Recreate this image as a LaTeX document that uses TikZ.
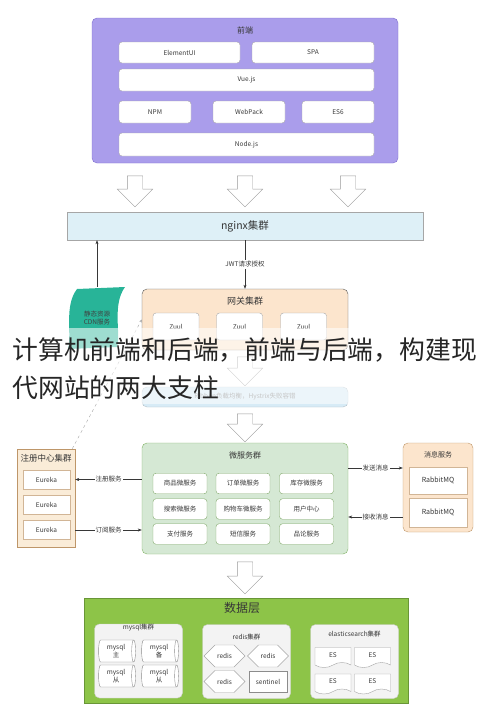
\documentclass[tikz,border=0pt]{standalone}
\usepackage{fontspec}
\setmainfont{Noto Sans CJK SC}
\definecolor{feviolet}{RGB}{170, 157, 235}
\definecolor{feborder}{RGB}{125, 108, 205}
\definecolor{nginxblue}{RGB}{222, 240, 247}
\definecolor{gwpeach}{RGB}{252, 229, 205}
\definecolor{cdnteal}{RGB}{40, 180, 152}
\definecolor{lbblue}{RGB}{215, 235, 246}
\definecolor{msgreen}{RGB}{213, 232, 212}
\definecolor{msborder}{RGB}{130, 179, 102}
\definecolor{regbeige}{RGB}{250, 236, 216}
\definecolor{peachborder}{RGB}{190, 150, 105}
\definecolor{dbgreen}{RGB}{141, 196, 72}
\definecolor{dbborder}{RGB}{105, 150, 55}
\definecolor{panelgray}{RGB}{243, 243, 243}
\definecolor{txtgray}{RGB}{55, 55, 55}
\usetikzlibrary{shapes.geometric, shapes.symbols, shapes.arrows, arrows.meta, positioning, calc}

\begin{document}
\begin{tikzpicture}[x=1pt, y=-1pt,
  box/.style={draw=gray!70, rounded corners=3pt, fill=white, inner sep=1pt, font=\fontsize{6.5}{8}\selectfont, text=txtgray, align=center},
  grp/.style={draw, rounded corners=5pt},
  title/.style={font=\fontsize{8}{10}\selectfont, text=txtgray},
  hollow/.style={single arrow, draw=gray!80, fill=white, rotate=-90, minimum height=#1, minimum width=35pt, single arrow head extend=10pt, inner sep=7.5pt},
  hollow/.default=30pt,
  flow/.style={-{Stealth[length=4pt, width=3pt]}, txtgray},
  lbl/.style={fill=white, inner sep=1pt, font=\fontsize{6.5}{8}\selectfont, text=txtgray},
  panel/.style={draw=gray!40, fill=panelgray, rounded corners=5pt, minimum width=88pt, minimum height=74pt},
  dbcyl/.style={box, cylinder, rounded corners=0pt, draw=gray!90, shape aspect=0.3, minimum width=22pt, minimum height=37pt, inner sep=0pt, font=\fontsize{6.5}{7.5}\selectfont}
]
  \useasboundingbox (0,0) rectangle (490,721);

  % Frontend
  \node[grp, draw=feborder, fill=feviolet, minimum width=306pt, minimum height=145pt] (fe) at (245, 90.5) {};
  \node[title] (fetitle) at (245, 30) {前端};
  \node[box, minimum width=121pt, minimum height=21pt] (elem) at (179.5, 52.5) {ElementUI};
  \node[box, minimum width=122pt, minimum height=21pt] (spa) at (313, 52.5) {SPA};
  \node[box, minimum width=255pt, minimum height=22pt] (vue) at (246.5, 80) {Vue.js};
  \node[box, minimum width=72pt, minimum height=22pt] (npm) at (155, 112) {NPM};
  \node[box, minimum width=72pt, minimum height=22pt] (webpack) at (249, 112) {WebPack};
  \node[box, minimum width=72pt, minimum height=22pt] (es6) at (338, 112) {ES6};
  \node[box, minimum width=255pt, minimum height=23pt] (nodejs) at (246.5, 144.5) {Node.js};

  % Arrows into nginx
  \node[hollow=31pt] (down1) at (135, 187.5) {};
  \node[hollow=31pt] (down2) at (245, 187.5) {};
  \node[hollow=31pt] (down3) at (348, 187.5) {};

  % nginx
  \node[draw=gray!70, fill=nginxblue, minimum width=356pt, minimum height=28pt, font=\fontsize{10.5}{12}\selectfont, text=txtgray] (nginx) at (245, 226) {nginx集群};

  % CDN
  \fill[cdnteal] (77, 289) -- (125, 287) .. controls (112, 305) and (121, 333) .. (117, 347)
    -- (68, 349) .. controls (72, 333) and (64, 306) .. cycle;
  \node[minimum width=50pt, minimum height=62pt, align=center, font=\fontsize{6.5}{8}\selectfont, text=black!75] (cdn) at (97, 318) {静态资源\\CDN服务};
  \draw[flow] (cdn.north) -- (cdn.north |- nginx.south);

  % Gateway
  \node[grp, draw=black!65, fill=gwpeach, minimum width=206pt, minimum height=61pt] (gw) at (245, 319.5) {};
  \node[title, font=\fontsize{9}{11}\selectfont] (gwtitle) at (245, 301) {网关集群};
  \node[box, minimum width=46pt, minimum height=27pt] (zuul1) at (176, 326.5) {Zuul};
  \node[box, minimum width=46pt, minimum height=27pt] (zuul2) at (239.5, 326.5) {Zuul};
  \node[box, minimum width=46pt, minimum height=27pt] (zuul3) at (303.5, 326.5) {Zuul};
  \draw[flow] (nginx.south) -- (gw.north) node[midway, lbl] {JWT请求授权};

  % Load balancing
  \node[hollow=29pt] (down4) at (245, 367.5) {};
  \node[draw=lbblue!60!gray, fill=lbblue, rounded corners=5pt, minimum width=206pt, minimum height=20pt, font=\fontsize{6.5}{8}\selectfont, text=gray] (lb) at (245, 397) {Ribbon负载均衡，Hystrix失败容错};
  \node[hollow=28pt] (down5) at (245, 424) {};

  % Microservices
  \node[grp, draw=msborder, fill=msgreen, minimum width=206pt, minimum height=111pt] (micro) at (245, 498.5) {};
  \node[title] (mstitle) at (245, 455) {微服务群};
  \node[box, draw=msborder!80!gray, minimum width=54pt, minimum height=20.5pt] (goods) at (180, 483.5) {商品微服务};
  \node[box, draw=msborder!80!gray, minimum width=54pt, minimum height=20.5pt] (order) at (243, 483.5) {订单微服务};
  \node[box, draw=msborder!80!gray, minimum width=54pt, minimum height=20.5pt] (stock) at (306.5, 483.5) {库存微服务};
  \node[box, draw=msborder!80!gray, minimum width=54pt, minimum height=20.5pt] (search) at (180, 509) {搜索微服务};
  \node[box, draw=msborder!80!gray, minimum width=54pt, minimum height=20.5pt] (cart) at (243, 509) {购物车微服务};
  \node[box, draw=msborder!80!gray, minimum width=54pt, minimum height=20.5pt] (user) at (306.5, 509) {用户中心};
  \node[box, draw=msborder!80!gray, minimum width=54pt, minimum height=20.5pt] (pay) at (180, 534) {支付服务};
  \node[box, draw=msborder!80!gray, minimum width=54pt, minimum height=20.5pt] (sms) at (243, 534) {短信服务};
  \node[box, draw=msborder!80!gray, minimum width=54pt, minimum height=20.5pt] (comment) at (306.5, 534) {品论服务};

  % Registry
  \node[draw=peachborder, fill=regbeige, minimum width=58pt, minimum height=98pt] (reg) at (46, 498) {};
  \node[title, font=\fontsize{8.5}{10}\selectfont] (regtitle) at (46, 458) {注册中心集群};
  \node[box, rounded corners=0pt, draw=peachborder!70, minimum width=47pt, minimum height=19pt] (eu1) at (46.5, 479.5) {Eureka};
  \node[box, rounded corners=0pt, draw=peachborder!70, minimum width=47pt, minimum height=19pt] (eu2) at (46.5, 505) {Eureka};
  \node[box, rounded corners=0pt, draw=peachborder!70, minimum width=47pt, minimum height=19pt] (eu3) at (46.5, 530) {Eureka};
  \draw[flow] (micro.west |- eu1) -- (reg.east |- eu1) node[midway, lbl] {注册服务};
  \draw[flow] (reg.east |- eu3) -- (micro.west |- eu3) node[midway, lbl] {订阅服务};
  \draw[dashed, gray!70, -{Stealth[length=3pt, width=2.5pt]}] ([xshift=-3pt]reg.north east) -- (gw.west);

  % Messaging
  \node[grp, draw=peachborder, fill=gwpeach, minimum width=70pt, minimum height=89pt] (msg) at (438, 487.5) {};
  \node[title, font=\fontsize{7}{9}\selectfont] (msgtitle) at (438, 455) {消息服务};
  \node[box, rounded corners=0pt, draw=peachborder!70, minimum width=58pt, minimum height=27pt, font=\fontsize{7}{9}\selectfont] (mq1) at (438, 480.5) {RabbitMQ};
  \node[box, rounded corners=0pt, draw=peachborder!70, minimum width=58pt, minimum height=29pt, font=\fontsize{7}{9}\selectfont] (mq2) at (438, 512.5) {RabbitMQ};
  \draw[flow] (micro.east |- 0, 468) -- (msg.west |- 0, 468) node[midway, lbl] {发送消息};
  \draw[flow] (msg.west |- 0, 517) -- (micro.east |- 0, 517) node[midway, lbl] {接收消息};

  % Data layer
  \node[hollow=32pt] (down6) at (245, 574) {};
  \node[draw=dbborder, fill=dbgreen, minimum width=324pt, minimum height=105pt] (db) at (246, 650.5) {};
  \node[font=\fontsize{12}{14}\selectfont, text=txtgray] (dbtitle) at (242, 608) {数据层};

  % mysql
  \node[panel] (mysqlgrp) at (138.5, 661) {};
  \node[font=\fontsize{6.5}{8}\selectfont, text=txtgray] (mysqltitle) at (138.5, 628) {mysql集群};
  \node[dbcyl] (master) at (116, 651) {mysql\\主};
  \node[dbcyl] (backup) at (159, 651) {mysql\\备};
  \node[dbcyl] (slave1) at (116, 676) {mysql\\从};
  \node[dbcyl] (slave2) at (159, 676) {mysql\\从};

  % redis
  \node[panel] (redisgrp) at (246.5, 661.5) {};
  \node[font=\fontsize{6.5}{8}\selectfont, text=txtgray] (redistitle) at (246.5, 637) {redis集群};
  \node[box, signal, signal to=west and east, rounded corners=0pt, minimum width=41pt, minimum height=22pt] (redis1) at (224.5, 656) {redis};
  \node[box, signal, signal to=west and east, rounded corners=0pt, minimum width=41pt, minimum height=22pt] (redis2) at (268, 656) {redis};
  \node[box, signal, signal to=west and east, rounded corners=0pt, minimum width=41pt, minimum height=22pt] (redis3) at (224.5, 681.5) {redis};
  \node[box, rounded corners=0pt, draw=gray!90, minimum width=38pt, minimum height=21pt] (sentinel) at (268, 681.5) {sentinel};

  % elasticsearch
  \node[panel] (esgrp) at (354.5, 661.5) {};
  \node[font=\fontsize{6.5}{8}\selectfont, text=txtgray] (estitle) at (354.5, 634) {elasticsearch集群};
  \node[box, tape, tape bend top=none, rounded corners=0pt, minimum width=36pt, minimum height=20pt] (es1) at (333, 655) {ES};
  \node[box, tape, tape bend top=none, rounded corners=0pt, minimum width=36pt, minimum height=20pt] (es2) at (372.5, 655) {ES};
  \node[box, tape, tape bend top=none, rounded corners=0pt, minimum width=36pt, minimum height=20pt] (es3) at (333, 681.5) {ES};
  \node[box, tape, tape bend top=none, rounded corners=0pt, minimum width=36pt, minimum height=20pt] (es4) at (372.5, 681.5) {ES};

  % Caption over the picture
  \fill[white, opacity=0.55] (0, 328) rectangle (490, 404);
  \node[anchor=west, align=left, font=\fontsize{25.8}{38}\selectfont, text=black!85] (caption) at (9, 369) {计算机前端和后端，前端与后端，构建现\\代网站的两大支柱};
\end{tikzpicture}
\end{document}
